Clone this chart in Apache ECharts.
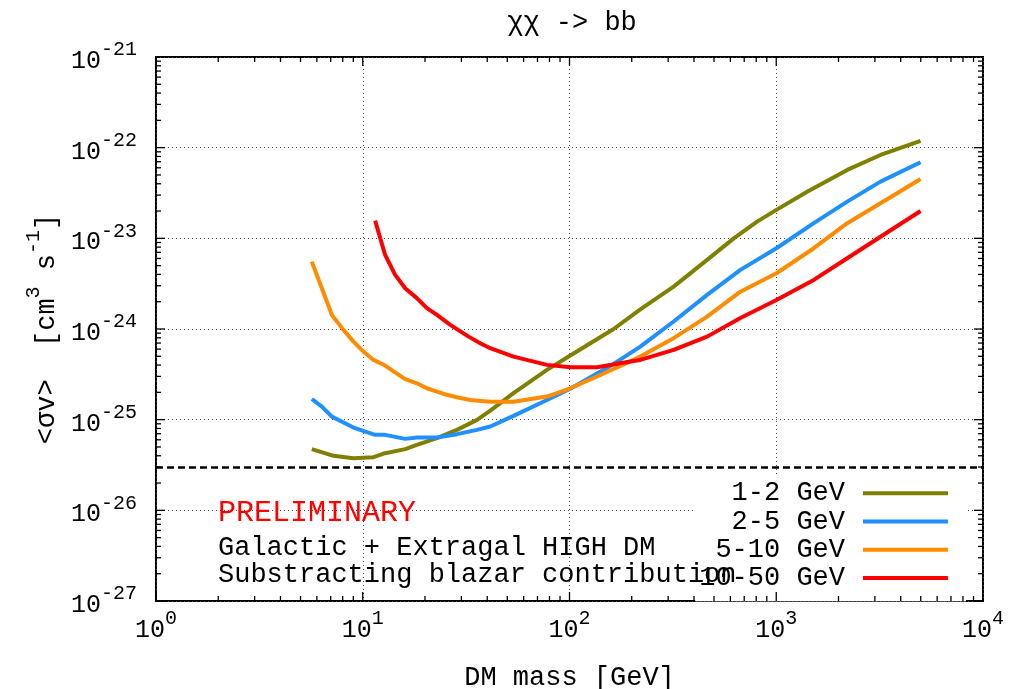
<!DOCTYPE html>
<html>
<head>
<meta charset="utf-8">
<script src="https://cdn.jsdelivr.net/npm/echarts@6/dist/echarts.min.js"></script>
<style>
  html, body { margin: 0; padding: 0; background: #fff; }
  #chart { width: 1019px; height: 689px; }
</style>
</head>
<body>
<div id="chart"></div>
<script>
// ---------------- data ----------------
const seriesNames = ['1-2 GeV', '2-5 GeV', '5-10 GeV', '10-50 GeV'];

const mass12 = [5.67, 7.22, 9.02, 11.27, 12.83, 16.04, 18.27, 22.85, 28.55, 35.7, 41.4, 53.6, 77.8, 100.9, 163.5, 220, 319, 463, 623, 808, 1002, 1411, 2204, 3194, 4989];
const sv12   = [4.73e-26, 3.99e-26, 3.76e-26, 3.86e-26, 4.27e-26, 4.73e-26, 5.27e-26, 6.25e-26, 7.72e-26, 9.95e-26, 1.26e-25, 1.96e-25, 3.54e-25, 5.1e-25, 1.0e-24, 1.65e-24, 2.93e-24, 5.78e-24, 1.0e-23, 1.53e-23, 2.06e-23, 3.27e-23, 5.68e-23, 8.31e-23, 1.19e-22];

const mass25 = [5.67, 6.34, 7.09, 9.02, 11.48, 12.83, 16.04, 18.27, 22.85, 28.55, 35.7, 41.4, 53.6, 77.8, 100.9, 163.5, 220, 319, 463, 671, 1002, 1519, 2204, 3194, 4989];
const sv25   = [1.69e-25, 1.39e-25, 1.08e-25, 8.18e-26, 6.80e-26, 6.80e-26, 6.14e-26, 6.35e-26, 6.35e-26, 6.92e-26, 7.72e-26, 8.4e-26, 1.1e-25, 1.65e-25, 2.19e-25, 4.12e-25, 6.40e-25, 1.21e-24, 2.38e-24, 4.49e-24, 7.78e-24, 1.47e-23, 2.54e-23, 4.22e-23, 6.90e-23];

const mass510 = [5.67, 6.34, 7.09, 8.07, 9.02, 10.08, 11.27, 12.83, 16.04, 18.27, 20.43, 22.85, 25.53, 28.55, 33.1, 41.4, 53.6, 77.8, 100.9, 135.9, 196.9, 220, 319, 463, 671, 1002, 1519, 2204, 3194, 4989];
const sv510   = [5.53e-24, 2.82e-24, 1.43e-24, 9.78e-25, 7.26e-25, 5.64e-25, 4.56e-25, 3.95e-25, 2.80e-25, 2.52e-25, 2.22e-25, 2.04e-25, 1.88e-25, 1.77e-25, 1.65e-25, 1.58e-25, 1.58e-25, 1.80e-25, 2.22e-25, 2.99e-25, 4.4e-25, 4.96e-25, 7.92e-25, 1.37e-24, 2.58e-24, 4.12e-24, 7.78e-24, 1.47e-23, 2.44e-23, 4.52e-23];

const mass1050 = [11.48, 12.83, 14.35, 16.04, 18.27, 20.43, 22.85, 26.5, 32.5, 37.0, 41.4, 53.6, 77.8, 100.9, 135.9, 196.9, 220, 319, 463, 671, 1002, 1519, 2204, 3194, 4989];
const sv1050   = [1.57e-23, 6.56e-24, 3.95e-24, 2.82e-24, 2.19e-24, 1.70e-24, 1.43e-24, 1.11e-24, 8.24e-25, 6.97e-25, 6.14e-25, 4.96e-25, 4.02e-25, 3.79e-25, 3.79e-25, 4.37e-25, 4.56e-25, 5.88e-25, 8.24e-25, 1.32e-24, 2.09e-24, 3.48e-24, 6.03e-24, 1.04e-23, 2.0e-23];

const thermalRelic = 3e-26;

const xMin = 1, xMax = 1e4;
const yMin = 1e-27, yMax = 1e-21;

const titleText = 'χχ -> bb';
const xAxisName = 'DM mass [GeV]';
const noteLines = ['Galactic + Extragal HIGH DM', 'Substracting blazar contribution'];
const prelimText = 'PRELIMINARY';

// ---------------- chart ----------------
// ECharts' log scale cannot handle values as small as 1e-27 directly,
// so the y axis works in units of 1e-27 cm^3 s^-1 (labels show the true powers).
const Y_UNIT_EXP = -27;
const Y_UNIT = Math.pow(10, Y_UNIT_EXP);
const toAxis = v => v / Y_UNIT;

const FONT = 'Liberation Mono';
const colors = ['#808000', '#1E90FF', '#FF8C00', '#FF0000'];
const masses = [mass12, mass25, mass510, mass1050];
const values = [sv12, sv25, sv510, sv1050];

function pairs(xs, ys) { return xs.map((x, i) => [x, toAxis(ys[i])]); }

const yLo = Math.round(toAxis(yMin)), yHi = Math.round(toAxis(yMax));
const xDecades = Math.round(Math.log10(xMax / xMin));
const yDecades = Math.round(Math.log10(yHi / yLo));

// tick positions (decades and 2..9 subdivisions)
const tickData = [];
for (let d = 0; d < xDecades; d++) {
  for (let k = 1; k <= 9; k++) tickData.push([xMin * k * Math.pow(10, d), yLo, 0, k === 1 ? 1 : 0]);
}
for (let d = 0; d < yDecades; d++) {
  for (let k = 1; k <= 9; k++) tickData.push([xMin, yLo * k * Math.pow(10, d), 1, k === 1 ? 1 : 0]);
}

function renderTicks(params, api) {
  const cs = params.coordSys;
  const kind = api.value(2);
  const L = api.value(3) ? 9 : 5;
  const p = api.coord([api.value(0), api.value(1)]);
  const style = { stroke: '#000', lineWidth: 1.3 };
  if (kind === 0) {
    const x = p[0];
    return { type: 'group', children: [
      { type: 'line', shape: { x1: x, y1: cs.y + cs.height, x2: x, y2: cs.y + cs.height - L }, style },
      { type: 'line', shape: { x1: x, y1: cs.y, x2: x, y2: cs.y + L }, style }
    ]};
  }
  const y = p[1];
  return { type: 'group', children: [
    { type: 'line', shape: { x1: cs.x, y1: y, x2: cs.x + L, y2: y }, style },
    { type: 'line', shape: { x1: cs.x + cs.width, y1: y, x2: cs.x + cs.width - L, y2: y }, style }
  ]};
}

const supRich = {
  b: { fontFamily: FONT, fontSize: 25, color: '#000', verticalAlign: 'bottom' },
  s: { fontFamily: FONT, fontSize: 20, color: '#000', padding: [0, 0, 14, 0], verticalAlign: 'top' }
};

const splitLineStyle = { show: true, lineStyle: { color: '#444', type: [1, 3], width: 1 } };

const series = seriesNames.map((name, i) => {
  const s = {
    name, type: 'line', data: pairs(masses[i], values[i]),
    showSymbol: false, symbol: 'none', smooth: false,
    lineStyle: { color: colors[i], width: 4 },
    itemStyle: { color: colors[i] },
    z: 3
  };
  if (i === 0) {
    s.markLine = {
      silent: true, symbol: ['none', 'none'],
      label: { show: false },
      lineStyle: { color: '#000', type: [7, 4], width: 2.5 },
      data: [{ yAxis: toAxis(thermalRelic) }]
    };
  }
  return s;
});
series.push({
  name: 'ticks', type: 'custom', renderItem: renderTicks, data: tickData,
  silent: true, clip: false, z: 5
});

const chart = echarts.init(document.getElementById('chart'), null, { renderer: 'canvas' });
chart.setOption({
  animation: false,
  backgroundColor: '#fff',
  title: {
    text: titleText, left: 567, top: 4, textAlign: 'center',
    textStyle: { fontFamily: FONT, fontSize: 27, fontWeight: 'normal', color: '#000' }
  },
  grid: {
    left: 156, right: 36, top: 57, bottom: 88,
    containLabel: false, outerBoundsMode: 'none',
    show: true, borderColor: '#000', borderWidth: 2
  },
  xAxis: {
    type: 'log', logBase: 10, min: xMin, max: xMax, splitNumber: xDecades,
    name: xAxisName, nameLocation: 'middle', nameGap: 63,
    nameTextStyle: { fontFamily: FONT, fontSize: 27, color: '#000' },
    axisLine: { show: false }, axisTick: { show: false },
    axisLabel: { margin: 8, formatter: v => `{b|10}{s|${Math.round(Math.log10(v))}}`, rich: supRich },
    splitLine: splitLineStyle
  },
  yAxis: {
    type: 'log', logBase: 10, min: yLo, max: yHi, splitNumber: yDecades,
    name: '{b|<σv>  [cm}{s|3}{b| s}{s|-1}{b|]}',
    nameLocation: 'middle', nameGap: 94, nameRotate: 90,
    nameTextStyle: {
      rich: {
        b: { fontFamily: FONT, fontSize: 27, color: '#000', verticalAlign: 'bottom' },
        s: { fontFamily: FONT, fontSize: 20, color: '#000', padding: [0, 0, 16, 0], verticalAlign: 'top' }
      }
    },
    axisLine: { show: false }, axisTick: { show: false },
    axisLabel: { margin: 19, formatter: v => `{b|10}{s|${Math.round(Math.log10(v)) + Y_UNIT_EXP}}`, rich: supRich },
    splitLine: splitLineStyle
  },
  legend: {
    data: seriesNames,
    orient: 'vertical', right: 53, top: 477,
    align: 'right', icon: 'rect', itemWidth: 85, itemHeight: 4, itemGap: 0,
    padding: [2, 18, 9, 4],
    backgroundColor: '#fff',
    textStyle: { fontFamily: FONT, fontSize: 27, color: '#000', lineHeight: 28.3, padding: [0, 13, 0, 0] },
    selectedMode: false
  },
  graphic: [
    { type: 'text', x: 218, y: 513, z: 100, style: { text: prelimText, fill: '#FF0000', font: `30px "${FONT}"`, verticalAlign: 'middle' } },
    { type: 'text', x: 218, y: 548, z: 100, style: { text: noteLines[0], fill: '#000', font: `27px "${FONT}"`, verticalAlign: 'middle' } },
    { type: 'text', x: 218, y: 575, z: 100, style: { text: noteLines[1], fill: '#000', font: `27px "${FONT}"`, verticalAlign: 'middle' } }
  ],
  series
});
</script>
</body>
</html>
